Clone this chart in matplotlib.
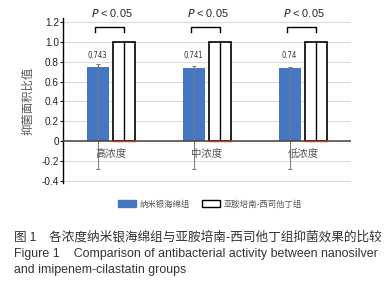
import matplotlib
matplotlib.use("Agg")
import matplotlib.pyplot as plt
import numpy as np
from matplotlib.patches import Patch

plt.rcParams['font.family'] = ['Noto Sans CJK SC', 'DejaVu Sans']

categories = ["高浓度", "中浓度", "低浓度"]
nano_values = [0.743, 0.741, 0.74]
nano_labels = ["0.743", "0.741", "0.74"]
nano_err_low = [1.02, 1.02, 1.02]
nano_err_high = [0.035, 0.02, 0.01]
imi_values = [1.0, 1.0, 1.0]
p_labels = ["P < 0.05", "P < 0.05", "P < 0.05"]
yticks = [-0.4, -0.2, 0, 0.2, 0.4, 0.6, 0.8, 1.0, 1.2]
ytick_labels = ["-0.4", "-0.2", "0", "0.2", "0.4", "0.6", "0.8", "1.0", "1.2"]
legend_labels = ["纳米银海绵组", "亚胺培南-西司他丁组"]
caption_cn = "图 1　各浓度纳米银海绵组与亚胺培南-西司他丁组抑菌效果的比较"
caption_en1 = "Figure 1    Comparison of antibacterial activity between nanosilver"
caption_en2 = "and imipenem-cilastatin groups"

fig = plt.figure(figsize=(3.85, 3.0), dpi=100)
ax = fig.add_axes([63/385, 117/300, 288/385, 165/300])

x = np.arange(len(categories))
w = 0.23
off = 0.14
blue = "#4677C2"

for y in yticks:
    ax.axhline(y, color="#d9d9d9", lw=0.7, zorder=0)

ax.bar(x - off, nano_values, w, color=blue, zorder=2)
ax.errorbar(x - off, nano_values, yerr=[nano_err_low, nano_err_high], fmt="none",
            ecolor="#777777", elinewidth=0.7, capsize=1.5, capthick=0.7, zorder=3)
ax.bar(x + off, imi_values, w, color="white", edgecolor="black", lw=1.2, zorder=2)
ax.vlines(x + off, 0, imi_values, color="black", lw=1.0, zorder=3)
ax.axhline(0, color="#444444", lw=1.1, zorder=3)
for i in range(len(categories)):
    ax.plot([x[i] + off - w/2, x[i] + off + w/2], [0, 0], color="#c0392b", lw=1.0, zorder=4)

for i in range(len(categories)):
    ax.text(x[i] - off, 0.86, nano_labels[i], ha="center", va="center", fontsize=5.5,
            color="#333333", family=["DejaVu Sans"], stretch="condensed")
    xl, xr = x[i] - off - 0.03, x[i] + off
    ax.plot([xl, xl, xr, xr], [1.1, 1.145, 1.145, 1.1], color="black", lw=1.0,
            clip_on=False, zorder=4)
    ax.text((xl + xr) / 2 + 0.02, 1.29, "$P$ < 0.05", ha="center", va="center", fontsize=7.8,
            color="#222222", family=["Liberation Sans"])
    ax.text(x[i], -0.13, categories[i], ha="center", va="center", fontsize=7.5,
            color="#555555")

ax.set_xlim(-0.5, 2.5)
ax.set_ylim(-0.42, 1.24)
ax.set_xticks([])
ax.set_yticks(yticks)
ax.set_yticklabels(ytick_labels, family=["Liberation Sans"])
ax.tick_params(axis="y", labelsize=7.2, length=2.5, width=0.8, pad=0.5, colors="#222222")
for s in ["top", "right", "bottom"]:
    ax.spines[s].set_visible(False)
ax.spines["left"].set_linewidth(1.0)
ax.set_ylabel("抑菌面积比值", fontsize=8.2, color="#555555", labelpad=6)

handles = [Patch(facecolor=blue, edgecolor=blue),
           Patch(facecolor="white", edgecolor="black", lw=1.0)]
fig.legend(handles, legend_labels, loc="center", bbox_to_anchor=(0.545, 0.32),
           ncol=2, frameon=False, prop={"size": 6}, handlelength=2.2, handleheight=0.85,
           handletextpad=0.4, columnspacing=1.5, labelcolor="#555555")

fig.text(14/385, 1 - 237/300, caption_cn, fontsize=9.1, color="#333333", va="center")
fig.text(14/385, 1 - 254/300, caption_en1, fontsize=8.95, color="#333333", va="center",
         family=["Liberation Sans"])
fig.text(14/385, 1 - 270/300, caption_en2, fontsize=8.95, color="#333333", va="center",
         family=["Liberation Sans"])

fig.savefig("out.png", dpi=100)
